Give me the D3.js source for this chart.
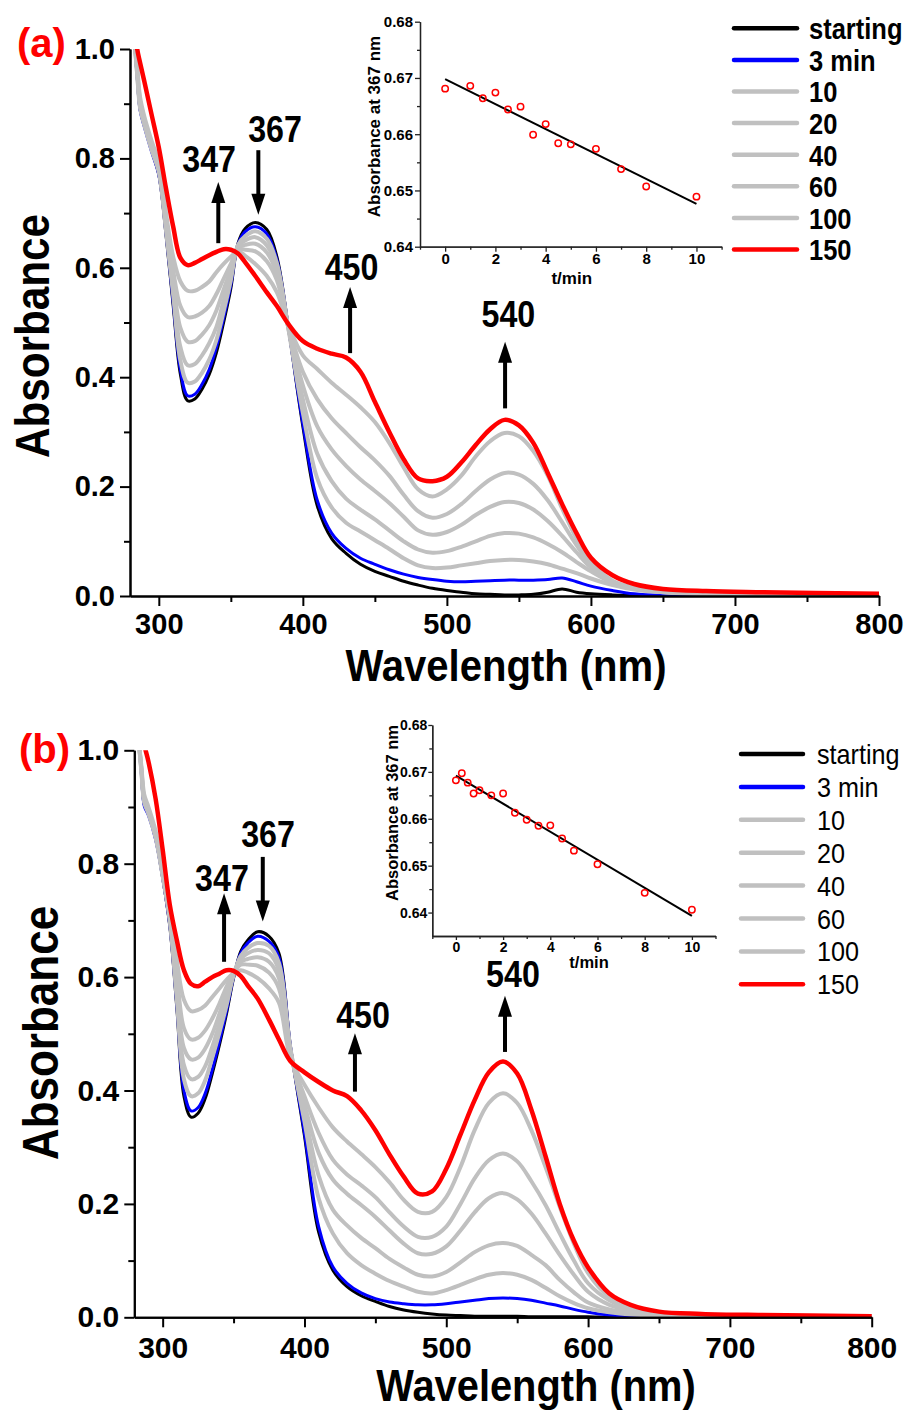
<!DOCTYPE html>
<html>
<head>
<meta charset="utf-8">
<script src="https://cdn.jsdelivr.net/npm/d3@7"></script>
<style>
  body { margin: 0; background: #fff; }
  svg { display: block; font-family: "Liberation Sans", Arial, sans-serif; }
</style>
</head>
<body>
<svg id="chart" width="912" height="1416"></svg>
<script>
// wavelength grid (nm) shared by every spectrum
const wavelengths = [283, 285, 287, 290, 295, 300, 305, 310, 315, 320, 325, 330, 335, 340, 345, 350, 355, 360, 367, 375,
  382, 390, 400, 410, 420, 430, 440, 450, 460, 470, 480, 490, 500, 510, 520, 530, 540, 550, 560, 570,
  580, 590, 600, 615, 630, 650, 680, 720, 800];

const seriesLabels = ["starting", "3 min", "10", "20", "40", "60", "100", "150"];

// panel (a) spectra
const aStarting = [1.02,0.95,0.89,0.86,0.815, 0.77,0.66,0.53,0.405,0.357, 0.36,0.378,0.405,0.445,0.50, 0.562,0.645,0.672,0.683,0.67,
  0.62,0.49,0.31,0.165,0.105, 0.078,0.058,0.045,0.036,0.027, 0.02,0.014,0.01,0.007,0.004, 0.003,0.002,0.002,0.003,0.007,
  0.013,0.007,0.004,0.002,0.001, 0,0,0,0];
const a3min = [1.02,0.948,0.888,0.857,0.812, 0.77,0.663,0.536,0.413,0.366, 0.369,0.387,0.414,0.455,0.508, 0.568,0.643,0.666,0.675,0.662,
  0.615,0.49,0.315,0.175,0.115, 0.087,0.069,0.058,0.048,0.04, 0.034,0.03,0.027,0.026,0.027, 0.028,0.029,0.029,0.029,0.03,
  0.033,0.026,0.018,0.01,0.004, 0.001,0,0,0];
const a10 = [1.02,0.952,0.892,0.86,0.815, 0.775,0.668,0.55,0.43,0.39, 0.392,0.408,0.432,0.468,0.52, 0.577,0.642,0.658,0.667,0.653,
  0.608,0.488,0.335,0.215,0.162, 0.134,0.118,0.102,0.086,0.069, 0.056,0.051,0.052,0.056,0.06, 0.064,0.066,0.066,0.063,0.058,
  0.05,0.042,0.032,0.02,0.012, 0.007,0.004,0.003,0.002];
const a20 = [1.02,0.955,0.896,0.863,0.818, 0.778,0.673,0.56,0.455,0.422, 0.424,0.44,0.462,0.492,0.54, 0.587,0.64,0.65,0.656,0.641,
  0.599,0.489,0.36,0.26,0.21, 0.178,0.158,0.14,0.12,0.1, 0.085,0.079,0.082,0.09,0.1, 0.11,0.115,0.114,0.107,0.095,
  0.08,0.062,0.045,0.024,0.013, 0.007,0.004,0.003,0.002];
const a40 = [1.02,0.958,0.9,0.866,0.822, 0.782,0.68,0.575,0.49,0.465, 0.466,0.478,0.495,0.522,0.56, 0.597,0.637,0.642,0.644,0.628,
  0.589,0.49,0.385,0.31,0.268, 0.238,0.213,0.192,0.17,0.145, 0.12,0.112,0.117,0.13,0.148, 0.163,0.172,0.17,0.158,0.137,
  0.11,0.08,0.052,0.026,0.014, 0.008,0.005,0.003,0.002];
const a60 = [1.02,0.962,0.905,0.87,0.826, 0.786,0.69,0.595,0.53,0.51, 0.511,0.518,0.53,0.552,0.58, 0.607,0.634,0.633,0.63,0.612,
  0.577,0.492,0.41,0.36,0.325, 0.298,0.272,0.248,0.22,0.185, 0.155,0.143,0.15,0.168,0.192, 0.213,0.225,0.222,0.205,0.175,
  0.135,0.093,0.058,0.027,0.015, 0.008,0.005,0.003,0.002];
const a100 = [1.02,0.968,0.912,0.876,0.832, 0.792,0.70,0.62,0.575,0.558, 0.558,0.565,0.575,0.592,0.607, 0.62,0.63,0.622,0.607,0.585,
  0.555,0.495,0.44,0.415,0.39, 0.368,0.345,0.318,0.28,0.235, 0.195,0.182,0.195,0.22,0.255, 0.283,0.298,0.292,0.265,0.22,
  0.16,0.105,0.062,0.028,0.015, 0.008,0.005,0.003,0.002];
const a150 = [1.06,1.0,0.975,0.94,0.88, 0.82,0.745,0.675,0.618,0.605, 0.609,0.616,0.623,0.629,0.634, 0.633,0.626,0.61,0.585,0.555,
  0.53,0.497,0.466,0.452,0.443, 0.436,0.41,0.355,0.30,0.25, 0.215,0.21,0.218,0.244,0.276, 0.305,0.322,0.312,0.28,0.225,
  0.168,0.115,0.07,0.038,0.022, 0.013,0.009,0.007,0.004];

// panel (b) spectra
const bStarting = [1.02,0.96,0.905,0.888,0.845, 0.775,0.69,0.545,0.39,0.353, 0.36,0.386,0.43,0.48,0.535, 0.598,0.645,0.665,0.68,0.672,
  0.642,0.48,0.32,0.15,0.083, 0.054,0.038,0.028,0.019,0.013, 0.009,0.006,0.004,0.003,0.002, 0.002,0.002,0.002,0.001,0.001,
  0.001,0.001,0.001,0,0, 0,0,0,0];
const b3min = [1.02,0.958,0.902,0.885,0.843, 0.775,0.692,0.55,0.40,0.364, 0.37,0.395,0.437,0.486,0.54, 0.60,0.642,0.66,0.672,0.663,
  0.635,0.48,0.325,0.16,0.089, 0.06,0.043,0.033,0.027,0.024, 0.022,0.022,0.024,0.027,0.03, 0.033,0.034,0.033,0.03,0.025,
  0.02,0.014,0.009,0.004,0.002, 0.001,0,0,0];
const b10 = [1.02,0.962,0.908,0.888,0.846, 0.778,0.70,0.56,0.42,0.39, 0.395,0.418,0.458,0.502,0.55, 0.603,0.637,0.651,0.66,0.655,
  0.625,0.476,0.345,0.21,0.148, 0.113,0.092,0.077,0.064,0.054, 0.045,0.042,0.048,0.057,0.067, 0.075,0.078,0.075,0.066,0.052,
  0.037,0.025,0.016,0.009,0.005, 0.003,0.002,0.001,0.001];
const b20 = [1.02,0.964,0.91,0.89,0.848, 0.78,0.703,0.57,0.445,0.42, 0.424,0.443,0.477,0.517,0.56, 0.605,0.632,0.642,0.648,0.642,
  0.612,0.472,0.36,0.25,0.19, 0.162,0.14,0.122,0.103,0.088, 0.075,0.072,0.08,0.097,0.115, 0.127,0.131,0.126,0.11,0.092,
  0.066,0.044,0.026,0.014,0.008, 0.005,0.003,0.002,0.001];
const b40 = [1.02,0.966,0.913,0.892,0.85, 0.783,0.707,0.585,0.475,0.455, 0.458,0.474,0.50,0.535,0.572, 0.607,0.627,0.632,0.635,0.627,
  0.598,0.468,0.375,0.29,0.243, 0.218,0.198,0.177,0.153,0.13, 0.113,0.112,0.125,0.153,0.185, 0.21,0.219,0.208,0.183,0.148,
  0.11,0.075,0.045,0.022,0.012, 0.007,0.004,0.003,0.002];
const b60 = [1.02,0.968,0.916,0.895,0.853, 0.786,0.712,0.605,0.51,0.49, 0.493,0.506,0.527,0.553,0.583, 0.608,0.622,0.622,0.62,0.608,
  0.58,0.463,0.39,0.325,0.278, 0.252,0.233,0.212,0.185,0.16, 0.142,0.142,0.16,0.2,0.245, 0.277,0.289,0.275,0.24,0.198,
  0.148,0.1,0.06,0.03,0.015, 0.008,0.005,0.003,0.002];
const b100 = [1.02,0.972,0.922,0.90,0.858, 0.79,0.72,0.63,0.56,0.54, 0.542,0.55,0.565,0.58,0.595, 0.607,0.612,0.608,0.598,0.58,
  0.555,0.458,0.41,0.37,0.335, 0.31,0.288,0.265,0.238,0.207, 0.186,0.186,0.212,0.265,0.33, 0.378,0.395,0.378,0.33,0.265,
  0.195,0.13,0.078,0.036,0.018, 0.009,0.005,0.003,0.002];
const b150 = [1.08,1.04,1.01,0.98,0.915, 0.825,0.728,0.665,0.612,0.588, 0.584,0.592,0.60,0.606,0.612, 0.611,0.602,0.585,0.562,0.525,
  0.49,0.452,0.432,0.415,0.40, 0.39,0.365,0.33,0.287,0.248, 0.218,0.222,0.262,0.322,0.383, 0.432,0.451,0.43,0.366,0.284,
  0.2,0.135,0.088,0.042,0.022, 0.01,0.006,0.004,0.002];

// insets: absorbance at 367 nm vs time
const insetATime = [0, 1, 1.5, 2, 2.5, 3, 3.5, 4, 4.5, 5, 6, 7, 8, 10];
const insetAAbs = [0.6681, 0.6686, 0.6664, 0.6674, 0.6644, 0.6649, 0.6599, 0.6618, 0.6584, 0.6582, 0.6574, 0.6538, 0.6507, 0.6489];
const insetAFitTime = [0, 10];
const insetAFitAbs = [0.6698, 0.6476];
const insetBTime = [0, 0.25, 0.5, 0.75, 1, 1.5, 2, 2.5, 3, 3.5, 4, 4.5, 5, 6, 8, 10];
const insetBAbs = [0.6682, 0.6697, 0.6677, 0.6654, 0.6661, 0.665, 0.6654, 0.6613, 0.6598, 0.6585, 0.6586, 0.6558, 0.6532, 0.6503, 0.6442, 0.6406];
const insetBFitTime = [0, 10];
const insetBFitAbs = [0.6692, 0.6393];

// ticks
const wavelengthTicks = [300, 400, 500, 600, 700, 800];
const wavelengthMinor = [350, 450, 550, 650, 750];
const absTicks = [0, 0.2, 0.4, 0.6, 0.8, 1.0];
const absMinor = [0.1, 0.3, 0.5, 0.7, 0.9];
const insetXTicks = [0, 2, 4, 6, 8, 10];
const insetXMinor = [-1, 1, 3, 5, 7, 9, 11];
const insetYTicks = [0.64, 0.65, 0.66, 0.67, 0.68];
const insetYMinor = [0.645, 0.655, 0.665, 0.675];

const seriesColors = ["#000000", "#0000ff", "#c0c0c0", "#c0c0c0", "#c0c0c0", "#c0c0c0", "#c0c0c0", "#ff0000"];
const seriesWidths = [3, 3, 4, 4, 4, 4, 4, 4.5];
const FONT = '"Liberation Sans", Arial, sans-serif';

const svg = d3.select("#chart");

function addText(parent, str, x, y, o) {
  let tr = `translate(${x},${y})`;
  if (o.rotate) tr += ` rotate(${o.rotate})`;
  if (o.sx) tr += ` scale(${o.sx},1)`;
  return parent.append("text")
    .attr("transform", tr)
    .attr("text-anchor", o.anchor || "start")
    .attr("dy", o.dy || null)
    .attr("font-size", o.size)
    .attr("font-weight", o.weight || "bold")
    .attr("fill", o.fill || "#000")
    .text(str);
}

function styleAxis(sel, size, width, weight, color) {
  sel.attr("font-family", FONT).attr("font-size", size).attr("font-weight", weight || "bold");
  sel.select(".domain").attr("stroke", color || "#000").attr("stroke-width", width);
  sel.selectAll(".tick line").attr("stroke", color || "#000").attr("stroke-width", width);
  sel.selectAll(".tick text").attr("fill", "#000");
}

function drawPanel(cfg) {
  const g = svg.append("g");
  const x = d3.scaleLinear().domain([280, 800]).range(cfg.xRange);
  const y = d3.scaleLinear().domain([0, 1]).range(cfg.yRange);

  // clip at the plot frame (curves run off the top at 1.0)
  const clipId = "clip-" + cfg.id;
  g.append("clipPath").attr("id", clipId).append("rect")
    .attr("x", cfg.xRange[0]).attr("y", cfg.yRange[1])
    .attr("width", cfg.xRange[1] - cfg.xRange[0])
    .attr("height", cfg.yRange[0] - cfg.yRange[1]);

  const line = d3.line()
    .x((d, i) => x(wavelengths[i]))
    .y(d => y(d))
    .curve(d3.curveCatmullRom.alpha(0.5));

  const curves = g.append("g").attr("clip-path", `url(#${clipId})`);
  cfg.series.forEach((values, i) => {
    curves.append("path")
      .datum(values)
      .attr("fill", "none")
      .attr("stroke", seriesColors[i])
      .attr("stroke-width", seriesWidths[i])
      .attr("stroke-linejoin", "round")
      .attr("stroke-linecap", "round")
      .attr("d", line);
  });

  // axes
  const xb = `translate(0,${cfg.yRange[0]})`;
  g.append("g").attr("transform", xb)
    .call(d3.axisBottom(x).tickValues(wavelengthMinor).tickSize(6).tickSizeOuter(0).tickFormat(""))
    .call(s => styleAxis(s, cfg.tickFont, 2));
  g.append("g").attr("transform", xb)
    .call(d3.axisBottom(x).tickValues(wavelengthTicks).tickSize(10).tickSizeOuter(0).tickPadding(cfg.tickPad))
    .call(s => styleAxis(s, cfg.tickFont, 2));
  const yl = `translate(${cfg.xRange[0]},0)`;
  g.append("g").attr("transform", yl)
    .call(d3.axisLeft(y).tickValues(absMinor).tickSize(6).tickSizeOuter(0).tickFormat(""))
    .call(s => styleAxis(s, cfg.tickFont, 2));
  g.append("g").attr("transform", yl)
    .call(d3.axisLeft(y).tickValues(absTicks).tickSize(10).tickSizeOuter(0).tickPadding(5).tickFormat(d3.format(".1f")))
    .call(s => styleAxis(s, cfg.tickFont, 2));

  // titles
  addText(g, "Absorbance", cfg.yTitle.x, cfg.yTitle.y, { size: cfg.yTitle.size, rotate: -90, sx: cfg.yTitle.sx, anchor: "middle" });
  addText(g, "Wavelength (nm)", cfg.xTitle.x, cfg.xTitle.y, { size: cfg.xTitle.size, sx: cfg.xTitle.sx, anchor: "middle" });
  addText(g, cfg.tag.text, cfg.tag.x, cfg.tag.y, { size: 40, fill: "#ff0000" });

  // arrows and peak labels
  cfg.annotations.forEach(a => {
    const ax = x(a.lam), yTail = y(a.tail), yTip = y(a.tip);
    const dir = Math.sign(yTip - yTail);
    g.append("line")
      .attr("x1", ax).attr("x2", ax)
      .attr("y1", yTail).attr("y2", yTip - dir * 16)
      .attr("stroke", "#000").attr("stroke-width", 4);
    g.append("path")
      .attr("d", `M${ax},${yTip} L${ax - 7},${yTip - dir * 21} L${ax + 7},${yTip - dir * 21} Z`)
      .attr("fill", "#000");
    addText(g, a.label, x(a.labLam), y(a.labA), { size: 37, sx: 0.87, anchor: "middle" });
  });

  // legend
  const L = cfg.legend;
  seriesLabels.forEach((lab, i) => {
    const yy = L.y0 + i * L.dy;
    g.append("line")
      .attr("x1", L.x1).attr("x2", L.x2).attr("y1", yy).attr("y2", yy)
      .attr("stroke", seriesColors[i]).attr("stroke-width", 4.5).attr("stroke-linecap", "round");
    addText(g, lab, L.tx, yy, { size: L.size, weight: L.weight, sx: L.sx, dy: "0.36em" });
  });
}

function drawInset(c) {
  const g = svg.append("g");
  const x = d3.scaleLinear().domain([-1, 11]).range(c.xRange);
  const y = d3.scaleLinear().domain(c.yDomain).range(c.yRange);
  const xb = `translate(0,${c.yRange[0]})`;
  const yl = `translate(${c.xRange[0]},0)`;

  g.append("g").attr("transform", xb)
    .call(d3.axisBottom(x).tickValues(insetXMinor).tickSize(3).tickSizeOuter(0).tickFormat(""))
    .call(s => styleAxis(s, c.tickFont, 1.3, "bold", "#222"));
  g.append("g").attr("transform", xb)
    .call(d3.axisBottom(x).tickValues(insetXTicks).tickSize(c.tick).tickSizeOuter(0).tickPadding(2))
    .call(s => styleAxis(s, c.tickFont, 1.3, "bold", "#222"));
  g.append("g").attr("transform", yl)
    .call(d3.axisLeft(y).tickValues(insetYMinor).tickSize(3).tickSizeOuter(0).tickFormat(""))
    .call(s => styleAxis(s, c.tickFont, 1.3, "bold", "#222"));
  g.append("g").attr("transform", yl)
    .call(d3.axisLeft(y).tickValues(insetYTicks).tickSize(c.tick).tickSizeOuter(0).tickPadding(c.pad).tickFormat(d3.format(".2f")))
    .call(s => styleAxis(s, c.tickFont, 1.3, "bold", "#222"));

  // linear fit
  g.append("path")
    .datum(c.fitTime.map((t, i) => [t, c.fitAbs[i]]))
    .attr("fill", "none").attr("stroke", "#000").attr("stroke-width", 2)
    .attr("d", d3.line().x(d => x(d[0])).y(d => y(d[1])));

  // measured points
  g.selectAll("circle.pt")
    .data(c.time.map((t, i) => [t, c.abs[i]]))
    .enter().append("circle")
    .attr("class", "pt")
    .attr("cx", d => x(d[0])).attr("cy", d => y(d[1]))
    .attr("r", 3.2)
    .attr("fill", "none").attr("stroke", "#ff0000").attr("stroke-width", 1.5);

  addText(g, "t/min", c.xTitle.x, c.xTitle.y, { size: c.titleFont, anchor: "middle" });
  addText(g, "Absorbance at 367 nm", c.yTitle.x, c.yTitle.y, { size: c.titleFont, rotate: -90, anchor: "middle" });
}

drawPanel({
  id: "a",
  series: [aStarting, a3min, a10, a20, a40, a60, a100, a150],
  xRange: [130, 879], yRange: [596, 49],
  tickFont: 29, tickPad: 7,
  tag: { text: "(a)", x: 17, y: 57 },
  yTitle: { x: 49, y: 336, size: 48, sx: 0.88 },
  xTitle: { x: 506, y: 681, size: 45, sx: 0.89 },
  legend: { x1: 734, x2: 797, tx: 809, y0: 28.3, dy: 31.6, size: 30, weight: "bold", sx: 0.85 },
  annotations: [
    { label: "347", lam: 341.3, tail: 0.645, tip: 0.757, labLam: 334.9, labA: 0.776 },
    { label: "367", lam: 369.1, tail: 0.815, tip: 0.697, labLam: 380.7, labA: 0.830 },
    { label: "450", lam: 432.8, tail: 0.444, tip: 0.565, labLam: 433.8, labA: 0.578 },
    { label: "540", lam: 540.4, tail: 0.343, tip: 0.465, labLam: 542.7, labA: 0.492 }
  ]
});

drawPanel({
  id: "b",
  series: [bStarting, b3min, b10, b20, b40, b60, b100, b150],
  xRange: [134.3, 871.7], yRange: [1317.3, 750.3],
  tickFont: 30, tickPad: 9,
  tag: { text: "(b)", x: 19, y: 763 },
  yTitle: { x: 58, y: 1033, size: 50, sx: 0.88 },
  xTitle: { x: 536, y: 1401, size: 45, sx: 0.885 },
  legend: { x1: 741, x2: 803, tx: 817, y0: 754, dy: 32.9, size: 28, weight: "normal", sx: 0.9 },
  annotations: [
    { label: "347", lam: 343.3, tail: 0.627, tip: 0.748, labLam: 341.8, labA: 0.752 },
    { label: "367", lam: 370.6, tail: 0.812, tip: 0.698, labLam: 374.3, labA: 0.829 },
    { label: "450", lam: 435.6, tail: 0.398, tip: 0.501, labLam: 441.3, labA: 0.510 },
    { label: "540", lam: 541.4, tail: 0.468, tip: 0.567, labLam: 547.0, labA: 0.583 }
  ]
});

drawInset({
  time: insetATime, abs: insetAAbs, fitTime: insetAFitTime, fitAbs: insetAFitAbs,
  xRange: [420, 721.6], yDomain: [0.64, 0.68], yRange: [246.7, 21.7],
  tickFont: 15, titleFont: 17, tick: 5, pad: 2,
  xTitle: { x: 571.7, y: 284 }, yTitle: { x: 380, y: 126.5 }
});

drawInset({
  time: insetBTime, abs: insetBAbs, fitTime: insetBFitTime, fitAbs: insetBFitAbs,
  xRange: [432.3, 715.5], yDomain: [0.635, 0.68], yRange: [936, 725],
  tickFont: 14, titleFont: 16.5, tick: 4, pad: 1,
  xTitle: { x: 589, y: 968 }, yTitle: { x: 398, y: 813 }
});
</script>
</body>
</html>
